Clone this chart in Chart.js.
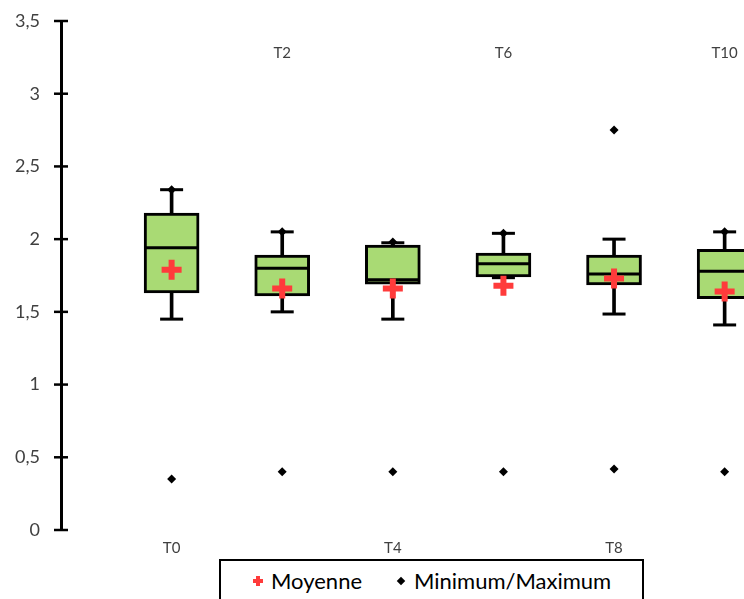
<!DOCTYPE html>
<html>
<head>
<meta charset="utf-8">
<script src="https://cdn.jsdelivr.net/npm/chart.js@4"></script>
<style>
  body { margin: 0; background: #fff; overflow: hidden; }
  #wrap { position: relative; width: 744px; height: 599px; }
  #legend { position: absolute; left: 219px; top: 559px; width: 421px; height: 60px;
            border: 2px solid #000; background: #fff; font-family: Lato, sans-serif; font-size: 22px; color: #000; }
  #legend span { position: absolute; line-height: 26px; top: 7px; white-space: nowrap; }
  .cross { position: absolute; top: 15px; width: 10px; height: 10px; }
  .cross::before, .cross::after { content: ''; position: absolute; background: #ff3b3b; }
  .cross::before { left: 3px; top: 0; width: 4px; height: 10px; }
  .cross::after { left: 0; top: 3px; width: 10px; height: 4px; }
  .diamond { position: absolute; top: 17px; width: 6px; height: 6px; background: #000; transform: rotate(45deg); }
</style>
</head>
<body>
<div id="wrap">
  <canvas id="chart"></canvas>
  <div id="legend">
    <div class="cross" style="left:32px"></div><span style="left:50px">Moyenne</span>
    <div class="diamond" style="left:177px"></div><span style="left:193px">Minimum/Maximum</span>
  </div>
</div>
<script>
const categories = ['T0', 'T2', 'T4', 'T6', 'T8', 'T10'];
const minimum = [0.35, 0.40, 0.40, 0.40, 0.42, 0.40];
const lowWhisker = [1.45, 1.50, 1.45, 1.735, 1.485, 1.41];
const q1 = [1.63, 1.61, 1.69, 1.74, 1.685, 1.59];
const median = [1.94, 1.80, 1.72, 1.83, 1.76, 1.78];
const q3 = [2.18, 1.89, 1.96, 1.905, 1.89, 1.93];
const highWhisker = [2.34, 2.05, 1.975, 2.04, 2.0, 2.05];
const maximum = [2.34, 2.05, 1.98, 2.04, 2.75, 2.05];
const mean = [1.79, 1.66, 1.66, 1.68, 1.73, 1.64];
const yTicks = [0, 0.5, 1, 1.5, 2, 2.5, 3, 3.5];

const idx = categories.map((c, i) => i);
const pts = vals => vals.map((v, i) => ({x: i, y: v}));
const spans = (a, b) => a.map((v, i) => ({x: i, y: [v, b[i]]}));

// tick marks crossing the y axis + the labels drawn above the boxes
const axisMarks = {
  id: 'axisMarks',
  afterDraw(chart) {
    const {ctx, chartArea, scales: {x, y}} = chart;
    ctx.save();
    ctx.strokeStyle = '#000';
    ctx.lineWidth = 2.5;
    yTicks.forEach(v => {
      const py = y.getPixelForValue(v);
      ctx.beginPath();
      ctx.moveTo(chartArea.left - 7, py);
      ctx.lineTo(chartArea.left + 7, py);
      ctx.stroke();
    });
    ctx.font = '15px Lato';
    ctx.fillStyle = '#404040';
    ctx.textAlign = 'center';
    ctx.textBaseline = 'middle';
    categories.forEach((c, i) => {
      if (i % 2 === 1) ctx.fillText(c, x.getPixelForValue(i), chartArea.top + 32);
    });
    ctx.restore();
  }
};

new Chart(document.getElementById('chart'), {
  type: 'bar',
  data: {
    datasets: [
      {
        type: 'scatter', label: 'Moyenne', data: pts(mean), order: 0,
        pointStyle: 'cross', radius: 10, borderWidth: 6, borderColor: '#ff3b3b'
      },
      {
        type: 'scatter', label: 'Médiane', data: pts(median), order: 1,
        pointStyle: 'line', radius: 26, borderWidth: 3, borderColor: '#000'
      },
      {
        type: 'scatter', label: 'Minimum/Maximum', data: pts(minimum).concat(pts(maximum)), order: 1,
        pointStyle: 'rectRot', radius: 4.5, borderWidth: 0, backgroundColor: '#000'
      },
      {
        type: 'scatter', label: 'caps', data: pts(lowWhisker).concat(pts(highWhisker)), order: 2,
        pointStyle: 'line', radius: 11.5, borderWidth: 3, borderColor: '#000'
      },
      {
        label: 'boxes', data: spans(q1, q3), order: 3, grouped: false,
        barThickness: 55, backgroundColor: '#a9da74', borderColor: '#000', borderWidth: 3, borderSkipped: false
      },
      {
        label: 'whiskers', data: spans(lowWhisker, q1).concat(spans(q3, highWhisker)), order: 4, grouped: false,
        barThickness: 3, backgroundColor: '#000', borderWidth: 0
      }
    ]
  },
  options: {
    responsive: true,
    maintainAspectRatio: false,
    animation: false,
    layout: { autoPadding: false, padding: { top: 21, left: 0, right: 0, bottom: 0 } },
    plugins: { legend: { display: false }, tooltip: { enabled: false } },
    scales: {
      x: {
        type: 'linear', min: -1, max: 5.175, offset: false,
        afterBuildTicks: s => { s.ticks = idx.map(v => ({value: v})); },
        afterFit: s => { s.height = 69; s.paddingLeft = 0; s.paddingRight = 0; },
        grid: { display: false, drawTicks: false },
        border: { display: false },
        ticks: {
          padding: 9, autoSkip: false, maxRotation: 0, color: '#404040',
          font: { family: 'Lato', size: 15 },
          callback: v => (v % 2 === 0 ? categories[v] : '')
        }
      },
      y: {
        min: 0, max: 3.5,
        afterBuildTicks: s => { s.ticks = yTicks.map(v => ({value: v})); },
        afterFit: s => { s.width = 61; s.paddingTop = 0; s.paddingBottom = 0; },
        grid: { display: false, drawTicks: false },
        border: { display: true, color: '#000', width: 3 },
        ticks: {
          padding: 21, color: '#404040',
          font: { family: 'Lato', size: 18 },
          callback: v => String(v).replace('.', ',')
        }
      }
    }
  },
  plugins: [axisMarks]
});
</script>
</body>
</html>
